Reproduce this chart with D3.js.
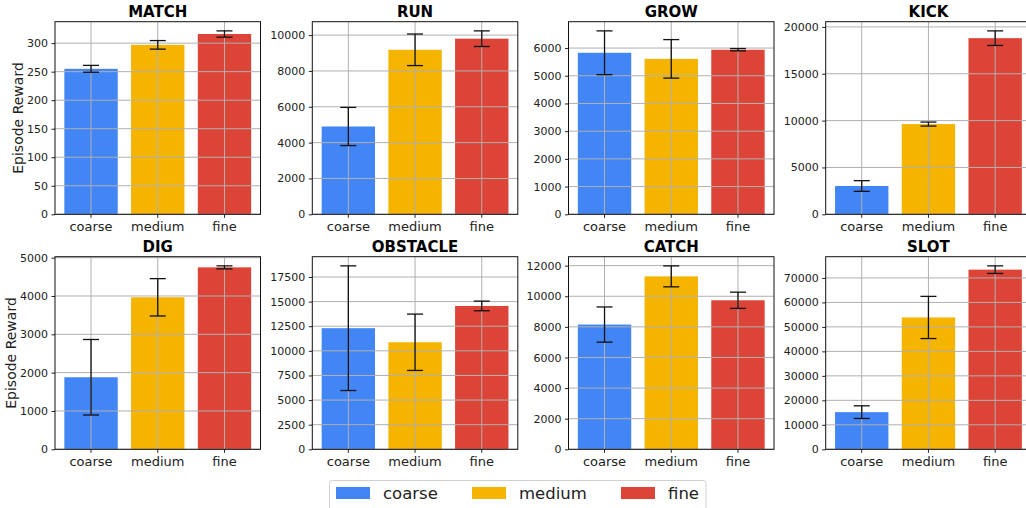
<!DOCTYPE html>
<html>
<head>
<meta charset="utf-8">
<script src="https://cdn.jsdelivr.net/npm/d3@7"></script>
<style>
  html, body { margin: 0; padding: 0; background: #fff; }
  svg { display: block; }
  svg text { font-family: "DejaVu Sans", sans-serif; }
</style>
</head>
<body>
<svg id="chart" width="1026" height="508"></svg>
<script>
// ---- data ----
const levels = ["coarse", "medium", "fine"];
const levelColors = ["#4285F4", "#F4B400", "#DB4437"];
const tasks = ["MATCH", "RUN", "GROW", "KICK", "DIG", "OBSTACLE", "CATCH", "SLOT"];

const matchMean = [255, 297, 316];
const matchErr  = [6, 7.5, 5.5];
const runMean = [4900, 9180, 9800];
const runErr  = [1065, 880, 436];
const growMean = [5830, 5610, 5940];
const growErr  = [790, 695, 42];
const kickMean = [3020, 9630, 18800];
const kickErr  = [570, 213, 778];
const digMean = [1880, 3966, 4747];
const digErr  = [985, 487, 39];
const obstacleMean = [12300, 10870, 14560];
const obstacleErr  = [6330, 2860, 490];
const catchMean = [8150, 11300, 9737];
const catchErr  = [1150, 685, 530];
const slotMean = [15180, 53850, 73380];
const slotErr  = [2585, 8610, 1545];

const matchTicks = [0, 50, 100, 150, 200, 250, 300];
const runTicks = [0, 2000, 4000, 6000, 8000, 10000];
const growTicks = [0, 1000, 2000, 3000, 4000, 5000, 6000];
const kickTicks = [0, 5000, 10000, 15000, 20000];
const digTicks = [0, 1000, 2000, 3000, 4000, 5000];
const obstacleTicks = [0, 2500, 5000, 7500, 10000, 12500, 15000, 17500];
const catchTicks = [0, 2000, 4000, 6000, 8000, 10000, 12000];
const slotTicks = [0, 10000, 20000, 30000, 40000, 50000, 60000, 70000];

const panels = [
  { title: tasks[0], mean: matchMean, err: matchErr, ticks: matchTicks },
  { title: tasks[1], mean: runMean, err: runErr, ticks: runTicks },
  { title: tasks[2], mean: growMean, err: growErr, ticks: growTicks },
  { title: tasks[3], mean: kickMean, err: kickErr, ticks: kickTicks },
  { title: tasks[4], mean: digMean, err: digErr, ticks: digTicks },
  { title: tasks[5], mean: obstacleMean, err: obstacleErr, ticks: obstacleTicks },
  { title: tasks[6], mean: catchMean, err: catchErr, ticks: catchTicks },
  { title: tasks[7], mean: slotMean, err: slotErr, ticks: slotTicks }
];

// ---- layout ----
const colLefts = [55, 312.3, 568.5, 825.7];
const rowTops = [21.7, 256.7];
const pw = 205.5, ph = 192.6;
const gridColor = "#b0b0b0";
const FONT = "DejaVu Sans";

const svg = d3.select("#chart");

panels.forEach((p, i) => {
  const col = i % 4, row = Math.floor(i / 4);
  const g = svg.append("g").attr("transform", `translate(${colLefts[col]},${rowTops[row]})`);

  const x = d3.scaleBand().domain(levels).range([0, pw]).paddingInner(0.2).paddingOuter(0.14);
  const ymax = d3.max(p.mean.map((m, k) => m + p.err[k])) * 1.05;
  const y = d3.scaleLinear().domain([0, ymax]).range([ph, 0]);

  // bars
  g.selectAll("rect.bar").data(levels).join("rect")
    .attr("class", "bar")
    .attr("x", d => x(d))
    .attr("width", x.bandwidth())
    .attr("y", (d, k) => y(p.mean[k]))
    .attr("height", (d, k) => ph - y(p.mean[k]))
    .attr("fill", (d, k) => levelColors[k]);

  // grid (drawn above bars)
  g.selectAll("line.hgrid").data(p.ticks).join("line")
    .attr("class", "hgrid")
    .attr("x1", 0).attr("x2", pw)
    .attr("y1", d => y(d)).attr("y2", d => y(d))
    .attr("stroke", gridColor).attr("stroke-width", 1);
  g.selectAll("line.vgrid").data(levels).join("line")
    .attr("class", "vgrid")
    .attr("x1", d => x(d) + x.bandwidth() / 2).attr("x2", d => x(d) + x.bandwidth() / 2)
    .attr("y1", 0).attr("y2", ph)
    .attr("stroke", gridColor).attr("stroke-width", 1);

  // error bars
  const eb = g.selectAll("g.err").data(levels).join("g").attr("class", "err")
    .attr("stroke", "#111").attr("stroke-width", 1.3);
  eb.each(function(d, k) {
    const cx = x(d) + x.bandwidth() / 2;
    const lo = y(p.mean[k] - p.err[k]), hi = y(p.mean[k] + p.err[k]);
    const s = d3.select(this);
    s.append("line").attr("x1", cx).attr("x2", cx).attr("y1", lo).attr("y2", hi);
    s.append("line").attr("x1", cx - 8).attr("x2", cx + 8).attr("y1", lo).attr("y2", lo);
    s.append("line").attr("x1", cx - 8).attr("x2", cx + 8).attr("y1", hi).attr("y2", hi);
  });

  // axes
  const yAxis = d3.axisLeft(y).tickValues(p.ticks).tickSize(3.5).tickPadding(3.5).tickFormat(d3.format("d"));
  const ya = g.append("g").call(yAxis).attr("font-family", FONT).attr("font-size", 11);
  ya.select(".domain").remove();
  ya.selectAll("text").attr("fill", "#222");
  ya.selectAll("line").attr("stroke", "#222");

  const xAxis = d3.axisBottom(x).tickSize(3.5).tickPadding(3.5);
  const xa = g.append("g").attr("transform", `translate(0,${ph})`).call(xAxis)
    .attr("font-family", FONT).attr("font-size", 13);
  xa.select(".domain").remove();
  xa.selectAll("text").attr("fill", "#222");
  xa.selectAll("line").attr("stroke", "#222");

  // frame
  g.append("rect").attr("x", 0).attr("y", 0).attr("width", pw).attr("height", ph)
    .attr("fill", "none").attr("stroke", "#111").attr("stroke-width", 1);

  // title
  g.append("text").attr("x", pw / 2).attr("y", -4.5)
    .attr("text-anchor", "middle").attr("font-size", 15).attr("font-weight", "bold")
    .attr("font-family", FONT).attr("fill", "#000").text(p.title);

  if (col === 0) {
    // label sits just left of the widest tick label, as matplotlib does
    let maxW = 0;
    ya.selectAll("text").each(function() { maxW = Math.max(maxW, this.getComputedTextLength()); });
    const lx = -(3.5 + 3.5 + maxW + 4);
    g.append("text")
      .attr("transform", `translate(${lx},${ph / 2}) rotate(-90)`)
      .attr("text-anchor", "middle").attr("font-size", 14).attr("font-family", FONT)
      .attr("fill", "#222")
      .text("Episode Reward");
  }
});

// ---- legend ----
const lg = svg.append("g");
lg.append("rect").attr("x", 329.5).attr("y", 480.5).attr("width", 376.5).attr("height", 40)
  .attr("rx", 3).attr("fill", "#fff").attr("stroke", "#d0d0d0").attr("stroke-width", 1);
const legendX = [336, 472, 621];
levels.forEach((lv, k) => {
  lg.append("rect").attr("x", legendX[k]).attr("y", 487).attr("width", 34).attr("height", 12)
    .attr("fill", levelColors[k]);
  lg.append("text").attr("x", legendX[k] + 47).attr("y", 499)
    .attr("font-size", 16.5).attr("font-family", FONT).attr("fill", "#222").text(lv);
});
</script>
</body>
</html>
